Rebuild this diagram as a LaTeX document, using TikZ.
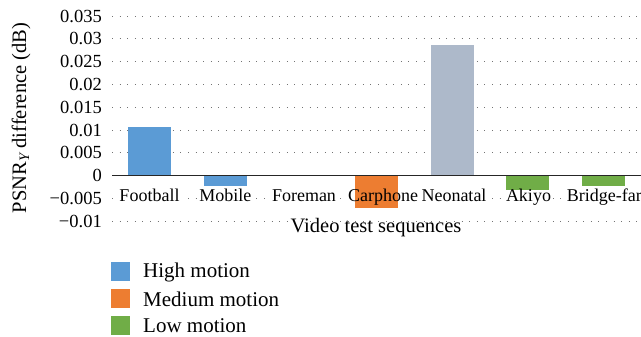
\documentclass[tikz,border=0pt]{standalone}
\usepackage{fontspec}
\setmainfont{Liberation Serif}
\pgfdeclarelayer{grid}
\pgfdeclarelayer{bars}
\pgfsetlayers{grid,bars,main}
\definecolor{highc}{HTML}{5B9BD5}
\definecolor{medc}{HTML}{ED7D31}
\definecolor{lowc}{HTML}{70AD47}
\definecolor{neoc}{HTML}{ADB9CA}
\tikzset{
  gridline/.style={line width=1pt, black!55, dash pattern=on 1pt off 6.6pt},
  ticklbl/.style={anchor=east, inner sep=0pt, font=\fontsize{18.5}{18.5}\selectfont},
  catlbl/.style={anchor=base, inner sep=1.5pt, font=\fontsize{18}{18}\selectfont},
  axtitle/.style={inner sep=0pt, font=\fontsize{20.5}{20.5}\selectfont},
  legbox/.style={minimum size=19pt, inner sep=0pt},
  legtext/.style={anchor=west, inner sep=0pt, font=\fontsize{21}{21}\selectfont},
}
\begin{document}
\begin{tikzpicture}[x=1pt,y=1pt]
\useasboundingbox (0,0) rectangle (641,337);

% value axis: 0.005 per 22.8pt, zero at y=161.3
\begin{pgfonlayer}{grid}
\fill[white] (0,0) rectangle (641,337);
\foreach \k in {-2,-1,1,2,3,4,5,6,7}
  \draw[gridline] (112,{161.3+22.8*\k}) -- (645,{161.3+22.8*\k});
\end{pgfonlayer}

\foreach \k/\t in {-2/{−0.01},-1/{−0.005},0/0,1/0.005,2/0.01,3/0.015,4/0.02,5/0.025,6/0.03,7/0.035}
  \node[ticklbl] (tick\k) at (102,{161.3+22.8*\k}) {\t};

% category labels
\foreach \x/\i/\name in {149.5/0/Football,225.3/1/Mobile,304/2/Foreman,383/3/Carphone,454/4/Neonatal,528.5/5/Akiyo,604.3/6/Bridge-far}
  \node[catlbl] (cat\i) at (\x,135.5) {\name};

% white boxes behind the labels hide the dotted line
\begin{pgfonlayer}{grid}
\foreach \i in {0,...,6}
  \fill[white] (cat\i.south west) rectangle (cat\i.north east);
\end{pgfonlayer}

% bars
\begin{pgfonlayer}{bars}
\fill[highc] (128,161.3) rectangle (171,210.1);
\fill[highc] (204,161.3) rectangle (247,151.3);
\fill[medc]  (355,161.3) rectangle (398,129.3);
\fill[neoc]  (431,161.3) rectangle (474,292);
\fill[lowc]  (506,161.3) rectangle (549,147);
\fill[lowc]  (582,161.3) rectangle (625,151.3);
\draw[line width=1pt, black!85] (112,161.3) -- (645,161.3);
\end{pgfonlayer}

% titles
\node[axtitle] (xtitle) at (376,109) {Video test sequences};
\node[axtitle, rotate=90] (ytitle) at (21,219) {PSNR$_{\mathit{Y}}$ difference (dB)};

% legend
\node[legbox, fill=highc] (lg1) at (120.5,65) {};
\node[legbox, fill=medc]  (lg2) at (120.5,38) {};
\node[legbox, fill=lowc]  (lg3) at (120.5,11) {};
\node[legtext] (lt1) at (143,65) {High motion};
\node[legtext] (lt2) at (143,38) {Medium motion};
\node[legtext] (lt3) at (143,11) {Low motion};
\end{tikzpicture}
\end{document}
